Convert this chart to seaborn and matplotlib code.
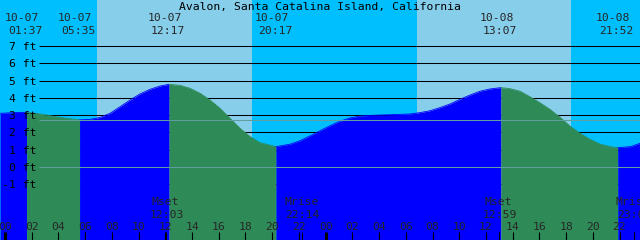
import numpy as np
import pandas as pd
import matplotlib
matplotlib.use("Agg")
import matplotlib.pyplot as plt
import matplotlib.transforms as mtransforms
import seaborn as sns

# ---------------- data ----------------
title = "Avalon, Santa Catalina Island, California"

# hours since 10-07 00:00, tide height in ft
hours = [-0.37, 0.90, 1.617, 2.50, 3.37, 4.64, 5.583, 6.36, 7.11, 7.86, 8.61, 9.36,
         10.10, 10.85, 11.60, 12.283, 13.10, 13.85, 14.60, 15.34, 16.09, 16.84,
         17.59, 18.34, 19.09, 20.283, 21.33, 22.08, 22.83, 23.58, 24.33, 25.07,
         25.82, 26.57, 27.32, 28.07, 28.82, 29.56, 30.31, 31.06, 31.81, 32.56,
         33.31, 34.06, 34.81, 35.55, 36.30, 37.117, 37.80, 38.55, 39.30, 40.04,
         40.79, 41.54, 42.29, 43.04, 43.79, 44.54, 45.28, 45.867, 46.83, 47.53]
heights = [3.10, 3.15, 3.16, 3.08, 2.96, 2.81, 2.72, 2.75, 2.86, 3.10, 3.48, 3.87,
           4.22, 4.49, 4.68, 4.78, 4.72, 4.55, 4.26, 3.87, 3.39, 2.81,
           2.23, 1.75, 1.40, 1.17, 1.31, 1.51, 1.79, 2.09, 2.38, 2.64,
           2.83, 2.94, 2.98, 3.00, 3.02, 3.04, 3.06, 3.14, 3.25, 3.43,
           3.64, 3.91, 4.16, 4.38, 4.51, 4.59, 4.53, 4.38, 4.06, 3.71,
           3.33, 2.87, 2.36, 1.94, 1.59, 1.32, 1.17, 1.11, 1.17, 1.36]

extreme_hours = [1.617, 5.583, 12.283, 20.283, 37.117, 45.867]
extreme_kinds = ["H", "L", "H", "L", "H", "L"]
extreme_dates = ["10-07", "10-07", "10-07", "10-07", "10-08", "10-08"]
extreme_times = ["01:37", "05:35", "12:17", "20:17", "13:07", "21:52"]

sun_hours = [6.87, 18.47, 30.84, 42.37]          # sunrise, sunset, sunrise, sunset

moon_hours = [12.05, 22.233, 36.983, 47.05]
moon_names = ["Mset", "Mrise", "Mset", "Mrise"]
moon_times = ["12:03", "22:14", "12:59", "23:03"]

ft_levels = [7, 6, 5, 4, 3, 2, 1, 0, -1]
ft_labels = ["7 ft", "6 ft", "5 ft", "4 ft", "3 ft", "2 ft", "1 ft", "0 ft", "-1 ft"]
mean_level = 2.73

hour_ticks = list(range(0, 48, 2))
hour_tick_labels = ["%02d" % (h % 24) for h in hour_ticks]

# ---------------- style ----------------
W, H = 640, 240
PX_PER_H = 13.36
PX_PER_FT = 17.26
X0_PX = 5.0           # pixel of hour 0
FT7_PX = 46.0         # pixel row of 7 ft

NIGHT = "#00BFFF"
DAY = "#87CEEB"
RISE = "#0000FF"
FALL = "#2E8B57"
LIGHT = "#5F9EA0"

sns.set_style("white")
plt.rcParams["font.family"] = ["DejaVu Sans Mono", "DejaVu Sans"]
FS = 8.2

fig = plt.figure(figsize=(W / 100, H / 100), dpi=100)
ax = fig.add_axes([0, 0, 1, 1])
xmin = -X0_PX / PX_PER_H
xmax = (W - X0_PX) / PX_PER_H
ytop = 7 + FT7_PX / PX_PER_FT
ybot = 7 - (H - FT7_PX) / PX_PER_FT
ax.set_xlim(xmin, xmax)
ax.set_ylim(ybot, ytop)
ax.axis("off")

def px2h(px):
    return px / PX_PER_H

def py2f(py):
    return 1 - py / H

# sky background
ax.axvspan(xmin, xmax, color=NIGHT, zorder=0, lw=0)
for a, b in zip(sun_hours[0::2], sun_hours[1::2]):
    ax.axvspan(a, b, color=DAY, zorder=0.5, lw=0)

# black grid lines (behind the water)
gx0 = xmin + px2h(39)
for lv in ft_levels:
    ax.plot([gx0, xmax], [lv, lv], color="black", lw=0.75, zorder=1,
            solid_capstyle="butt")

# water: rising (blue) / falling (green)
df = pd.DataFrame({"hour": hours, "height": heights})
bounds = [xmin - 1] + extreme_hours + [xmax + 1]
for i in range(len(bounds) - 1):
    a, b = bounds[i], bounds[i + 1]
    seg = df[(df.hour >= a - 1e-9) & (df.hour <= b + 1e-9)]
    if i < len(extreme_kinds):
        col = RISE if extreme_kinds[i] == "H" else FALL
    else:
        col = RISE if extreme_kinds[-1] == "L" else FALL
    ax.fill_between(seg.hour, ybot, seg.height, color=col, lw=0, zorder=2)
    sns.lineplot(data=seg, x="hour", y="height", color=col, lw=0.6, ax=ax,
                 zorder=2.1, estimator=None, sort=False)

# light lines: mean level and 0 ft
for lv in [mean_level, 0]:
    ax.plot([gx0, xmax], [lv, lv], color=LIGHT, lw=0.75, zorder=3,
            solid_capstyle="butt")

# y labels
tr_y = mtransforms.blended_transform_factory(ax.transAxes, ax.transData)
for lv, lab in zip(ft_levels, ft_labels):
    ax.text(36.5 / W, lv, lab, transform=tr_y, ha="right", va="center_baseline",
            fontsize=FS, color="black", zorder=5)

# title
ax.text(0.5, py2f(6.3), title, transform=ax.transAxes, ha="center",
        va="center_baseline", fontsize=FS, color="black", zorder=5)

# tide extreme labels at top
tr_x = mtransforms.blended_transform_factory(ax.transData, ax.transAxes)
for h, d, t in zip(extreme_hours, extreme_dates, extreme_times):
    ax.text(h - px2h(4.5), py2f(17), d, transform=tr_x, ha="center",
            va="center_baseline", fontsize=FS, zorder=5)
    ax.text(h - px2h(1), py2f(29.5), t, transform=tr_x, ha="center",
            va="center_baseline", fontsize=FS, zorder=5)

# moon labels at bottom, with a small tick at each moon event
for h, n, t in zip(moon_hours, moon_names, moon_times):
    ax.text(h - px2h(0.5), py2f(201.3), n, transform=tr_x, ha="center",
            va="center_baseline", fontsize=FS, zorder=5)
    ax.text(h + px2h(0.5), py2f(213.8), t, transform=tr_x, ha="center",
            va="center_baseline", fontsize=FS, zorder=5)
    ax.plot([h, h], [py2f(232), 0.0], transform=tr_x, color="black",
            lw=0.7, zorder=5, solid_capstyle="butt")

# hour ticks and labels
for h, lab in zip(hour_ticks, hour_tick_labels):
    ax.text(h, py2f(225.8), lab, transform=tr_x, ha="center",
            va="center_baseline", fontsize=FS, zorder=5)
    bold = (h % 24 == 0)
    ax.plot([h, h], [py2f(232), 0.0], transform=tr_x, color="black",
            lw=2.2 if bold else 0.8, zorder=5, solid_capstyle="butt")

fig.savefig("out.png", dpi=100)
